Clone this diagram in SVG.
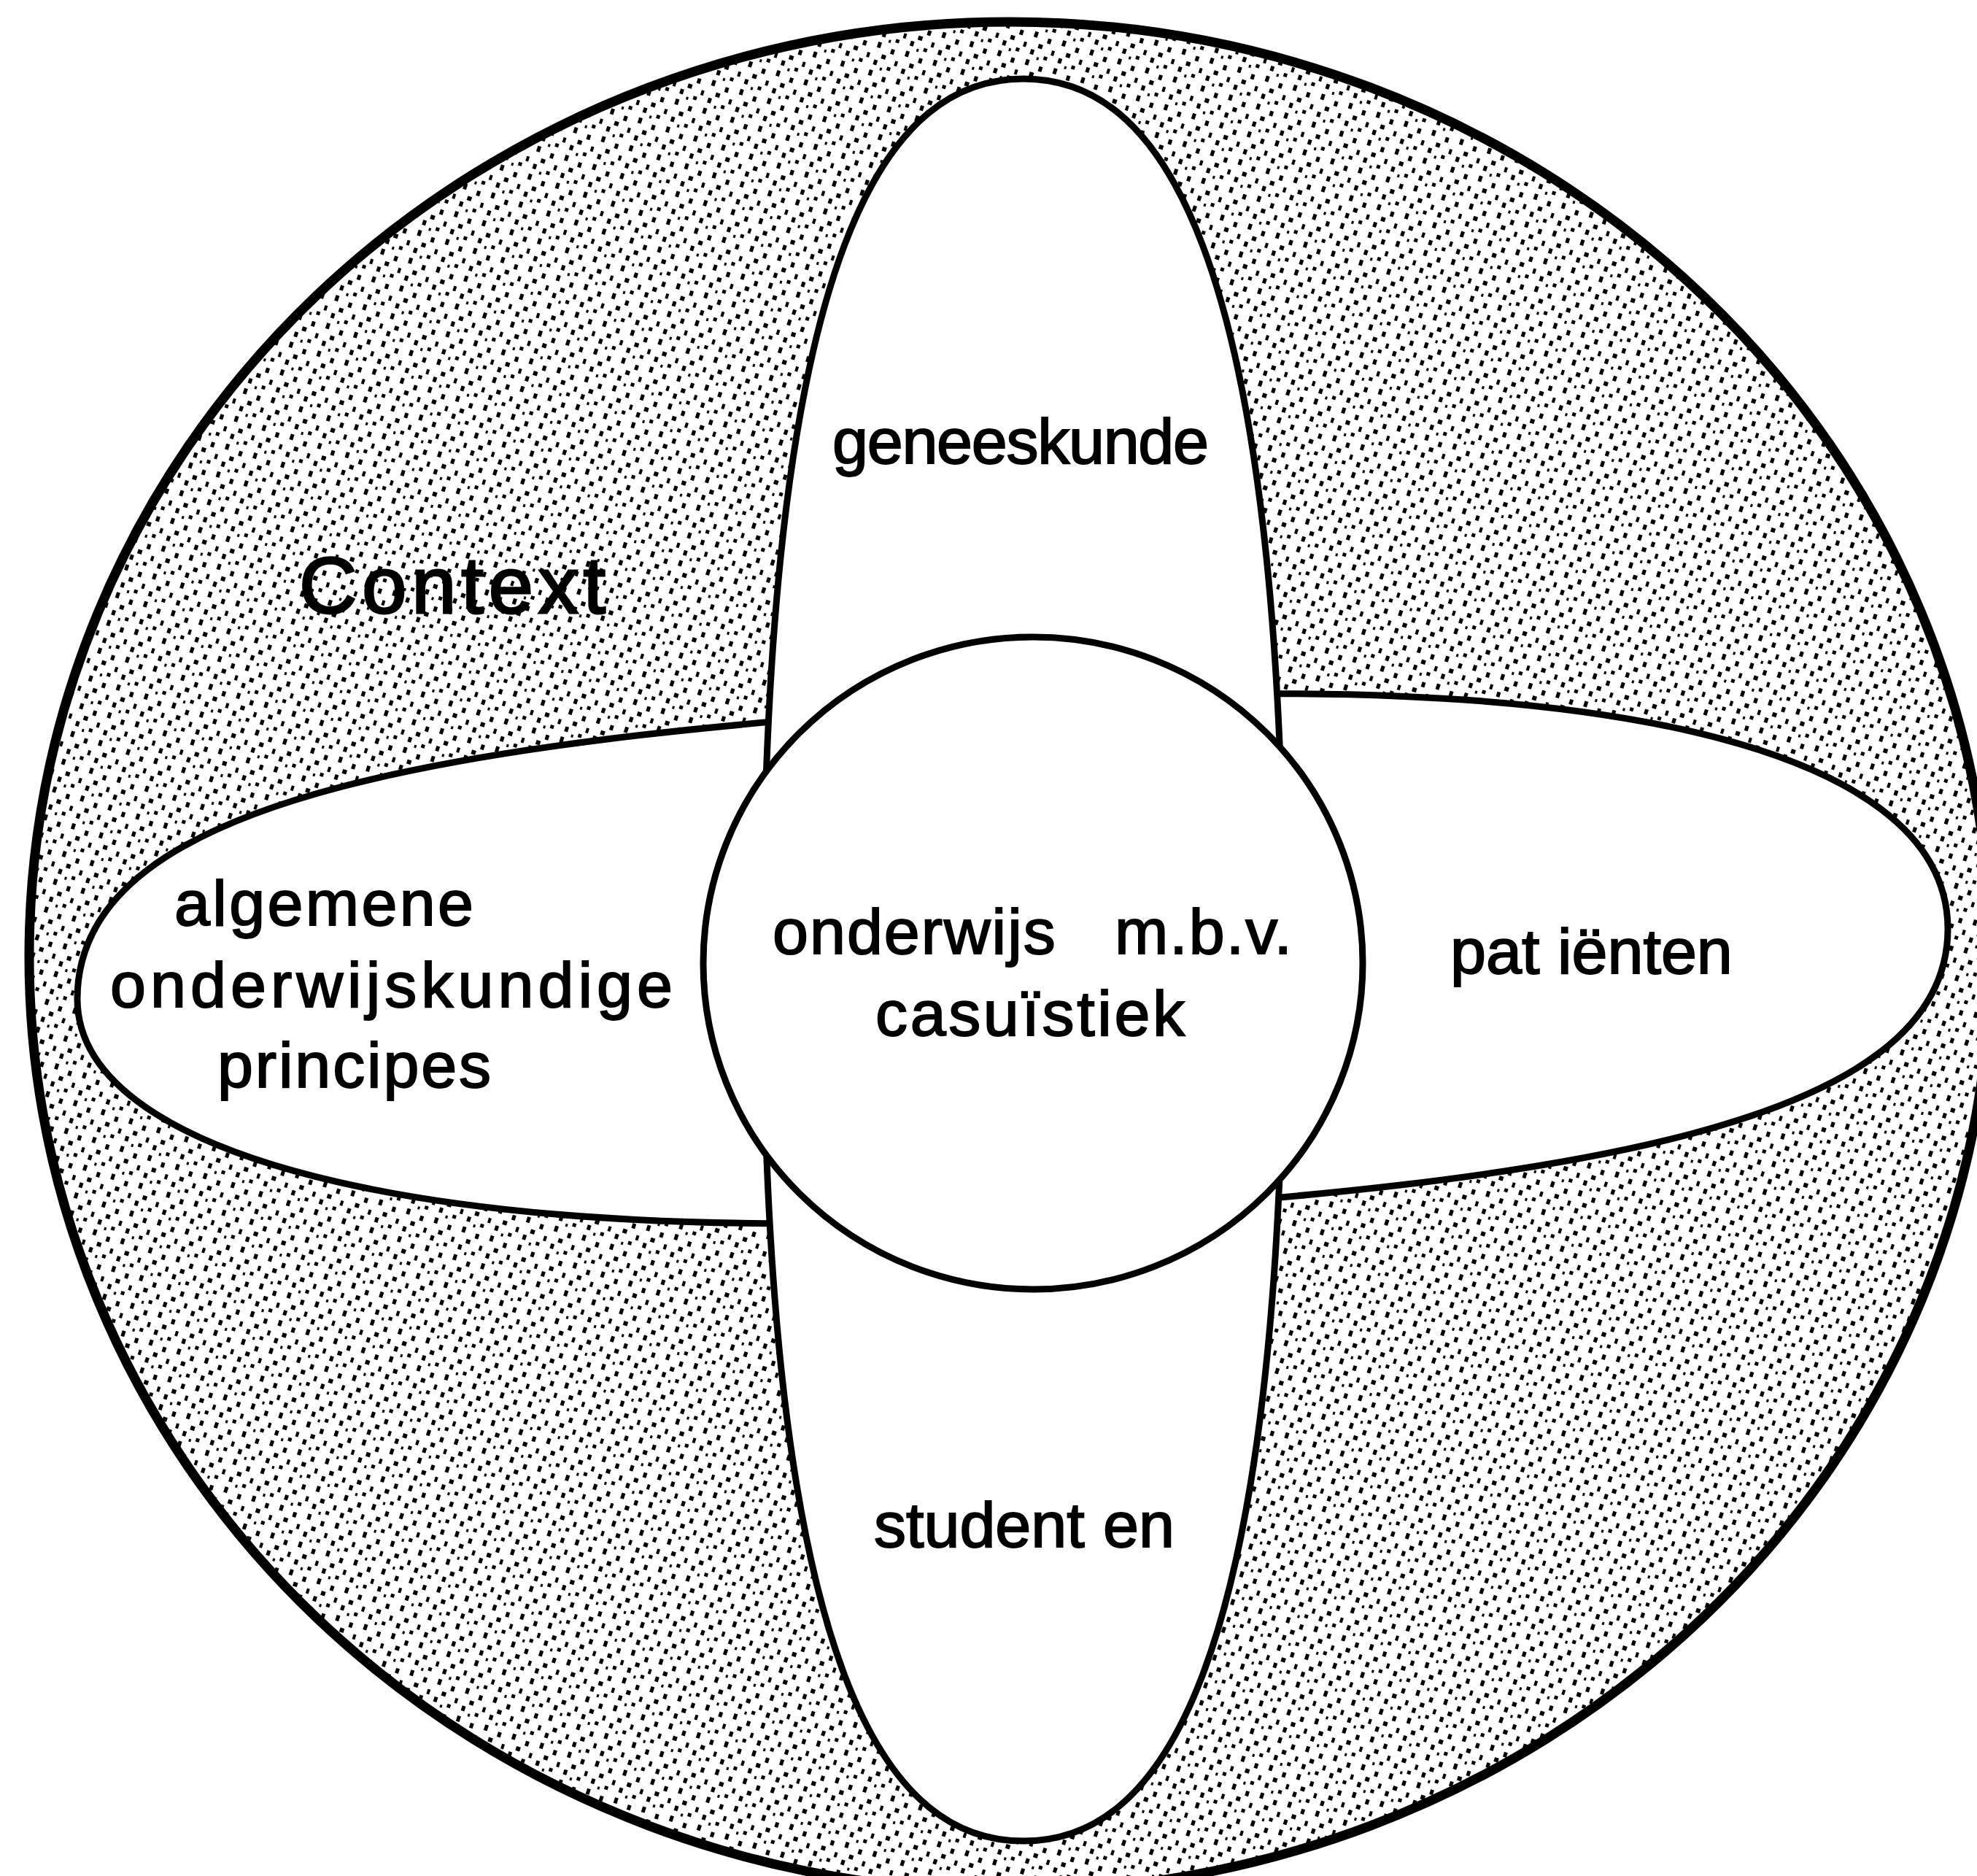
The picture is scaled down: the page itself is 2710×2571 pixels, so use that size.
<svg xmlns="http://www.w3.org/2000/svg" width="2710" height="2571" viewBox="0 0 2710 2571">
<style>
.lbl{font-family:"Liberation Sans",Arial,Helvetica,sans-serif;font-size:88px;fill:#000;stroke:#000;stroke-width:2}
.ctx{font-size:110px;stroke-width:3}
.outer{fill:url(#stipple);stroke:#000;stroke-width:13}
.petal{fill:#fff;stroke:#000;stroke-width:9;stroke-linejoin:round}
</style>
<defs>
<pattern id="stipple" width="40" height="40" patternUnits="userSpaceOnUse" patternTransform="rotate(18)">
<rect width="40" height="40" fill="#fff"/>
<rect x="3" y="2" width="5" height="8" fill="#000"/>
<rect x="23" y="6" width="5" height="7" fill="#000"/>
<rect x="13" y="17" width="6" height="6" fill="#000"/>
<rect x="33" y="20" width="4" height="7" fill="#000"/>
<rect x="5" y="27" width="5" height="7" fill="#000"/>
<rect x="25" y="31" width="5" height="5" fill="#000"/>
<rect x="16" y="35" width="3" height="4" fill="#000"/>
</pattern>
</defs>
<rect width="2710" height="2571" fill="#fff"/>
<g id="context">
<ellipse class="outer" cx="1384" cy="1311" rx="1344" ry="1281"/>
<text class="lbl ctx" x="410" y="840" textLength="420" lengthAdjust="spacing">Context</text>
</g>
<g id="algemene-onderwijskundige-principes">
<path class="petal" d="M1400,963 C640,1013 106,1085 106,1369 C106,1594 624,1713 1400,1667 Z"/>
<text class="lbl" x="239" y="1268" textLength="410" lengthAdjust="spacing">algemene</text>
<text class="lbl" x="151" y="1380" textLength="771" lengthAdjust="spacing">onderwijskundige</text>
<text class="lbl" x="298" y="1490" textLength="375" lengthAdjust="spacing">principes</text>
</g>
<g id="patienten">
<path class="petal" d="M1400,963 C2162,913 2670,1016 2670,1273 C2670,1540 2162,1622 1400,1667 Z"/>
<text class="lbl" y="1334"><tspan x="1988">pat</tspan><tspan x="2135">iënten</tspan></text>
</g>
<g id="geneeskunde">
<path class="petal" d="M1046,1316 C1046,312 1225,108 1403,108 C1581,108 1760,312 1760,1316 Z"/>
<text class="lbl" x="1141" y="635" textLength="516" lengthAdjust="spacing">geneeskunde</text>
</g>
<g id="studenten">
<path class="petal" d="M1046,1316 C1046,2320 1225,2523 1403,2523 C1581,2523 1760,2320 1760,1316 Z"/>
<text class="lbl" y="2120"><tspan x="1198">student</tspan><tspan x="1512">en</tspan></text>
</g>
<g id="onderwijs-casuistiek">
<ellipse class="petal" cx="1416" cy="1320" rx="452" ry="447"/>
<text class="lbl" y="1307" letter-spacing="2"><tspan x="1059">onderwijs </tspan><tspan x="1528">m.b.v.</tspan></text>
<text class="lbl" x="1200" y="1419" textLength="424" lengthAdjust="spacing">casuïstiek</text>
</g>
</svg>
